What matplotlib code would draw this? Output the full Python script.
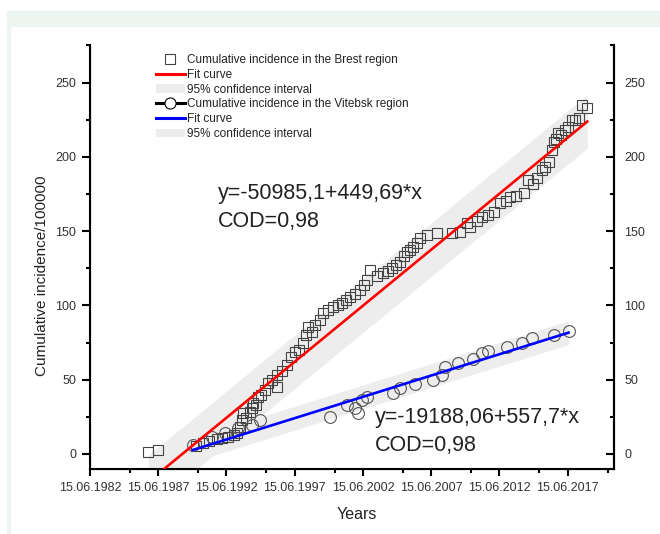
import matplotlib
matplotlib.use("Agg")
import matplotlib.pyplot as plt
from matplotlib.lines import Line2D
from matplotlib.patches import Patch, Rectangle

plt.rcParams["font.family"] = ["Liberation Sans", "DejaVu Sans"]

# Brest region, cumulative incidence per 100000
brest_years = [1986.72, 1987.46, 1990.2, 1990.73, 1991.2, 1991.74, 1992.1, 1992.57,
               1993.0, 1993.2, 1993.45, 1993.57, 1993.69, 1993.9, 1994.18, 1994.3,
               1994.42, 1994.6, 1994.79, 1995.0, 1995.28, 1995.52, 1995.8, 1996.14,
               1996.14, 1996.5, 1996.9, 1997.2, 1997.48, 1997.8, 1998.09, 1998.3,
               1998.45, 1998.7, 1998.95, 1999.3, 1999.55, 1999.9, 2000.29, 2000.6,
               2000.9, 2001.2, 2001.51, 2001.9, 2002.24, 2002.5, 2002.74, 2002.98,
               2003.5, 2003.95, 2004.3, 2004.57, 2004.9, 2005.18, 2005.45, 2005.67,
               2005.9, 2006.15, 2006.4, 2006.64, 2007.14, 2007.87, 2009.0, 2009.58,
               2010.07, 2010.31, 2010.8, 2011.17, 2011.6, 2012.02, 2012.51, 2012.9,
               2013.24, 2013.7, 2014.22, 2014.58, 2014.9, 2015.2, 2015.57, 2015.8,
               2016.05, 2016.3, 2016.42, 2016.6, 2016.78, 2017.0, 2017.27, 2017.5,
               2017.76, 2018.0, 2018.25, 2018.5, 2018.86]
brest_vals = [1.5, 2.7, 5.5, 7.4, 8.5, 10.1, 10.8, 11.6,
              12.5, 14.1, 18.0, 22.9, 27.4, 24.0, 28.5, 31.0,
              34.3, 33.0, 38.6, 40.0, 43.1, 47.6, 50.0, 53.2,
              45.3, 56.0, 60.0, 65.0, 68.9, 70.0, 74.5, 80.0,
              85.7, 82.0, 86.9, 90.0, 94.7, 97.0, 99.2, 100.0,
              101.5, 104.0, 105.9, 108.0, 110.4, 114.0, 117.2, 123.9,
              120.0, 121.7, 123.0, 125.1, 127.0, 129.5, 133.0, 136.2,
              137.0, 139.6, 142.0, 145.3, 147.5, 148.6, 149.0, 149.7,
              155.4, 153.1, 157.0, 159.8, 161.0, 163.2, 168.8, 170.0,
              173.3, 174.0, 175.6, 184.5, 182.0, 185.7, 191.2, 193.0,
              196.8, 204.7, 210.3, 212.0, 216.0, 215.0, 218.2, 220.0,
              224.9, 225.0, 226.1, 235.0, 232.8]

# Vitebsk region
vitebsk_years = [1990.02, 1991.37, 1992.35, 1993.32, 1994.3, 1994.91, 2000.04,
                 2001.27, 2001.88, 2002.12, 2002.37, 2002.74, 2004.69, 2005.18,
                 2006.28, 2007.62, 2008.23, 2008.48, 2009.45, 2010.55, 2011.17,
                 2011.65, 2013.0, 2014.1, 2014.83, 2016.42, 2017.52]
vitebsk_vals = [6.1, 11.6, 13.9, 17.3, 19.5, 22.9, 25.1,
                33.0, 30.8, 27.4, 36.4, 38.2, 40.9, 44.2,
                47.1, 49.8, 53.2, 58.8, 61.1, 63.8, 67.8,
                69.6, 72.3, 75.0, 77.9, 80.1, 83.0]

# linear fits and 95% bands (ends of each line)
brest_fit_years = [1986.72, 2018.89]
brest_fit_vals = [-18.8, 223.8]
brest_band_lo = [-36.8, 205.8]
brest_band_hi = [-0.8, 241.8]

vitebsk_fit_years = [1989.98, 2017.52]
vitebsk_fit_vals = [2.7, 81.7]
vitebsk_band_lo = [-5.3, 73.7]
vitebsk_band_hi = [10.7, 89.7]

major_years = [1982.45, 1987.45, 1992.45, 1997.45, 2002.45, 2007.45, 2012.45, 2017.45]
major_labels = ["15.06.1982", "15.06.1987", "15.06.1992", "15.06.1997",
                "15.06.2002", "15.06.2007", "15.06.2012", "15.06.2017"]
minor_years = [1985.38, 1990.38, 1995.38, 2000.38, 2005.38, 2010.38, 2015.38, 2020.38]
y_major = [0, 50, 100, 150, 200, 250]
y_minor = [25, 75, 125, 175, 225, 275]

W, H = 660, 534
fig = plt.figure(figsize=(6.6, 5.34), dpi=100)

# light frame of the page
fig.patches.append(Rectangle((7 / W, 1 - 26 / H), 653 / W, 15 / H,
                             transform=fig.transFigure, color="#edf5f0", zorder=0))
fig.patches.append(Rectangle((7 / W, 0), 3 / W, 1 - 26 / H,
                             transform=fig.transFigure, color="#edf5f0", zorder=0))

ax = fig.add_axes([90 / W, 1 - 469.3 / H, (614.3 - 90) / W, (469.3 - 45.5) / H])
ax.patch.set_alpha(0)

band_col = "#ededed"
ax.fill_between(brest_fit_years, brest_band_lo, brest_band_hi, color=band_col, lw=0, zorder=1)
ax.fill_between(vitebsk_fit_years, vitebsk_band_lo, vitebsk_band_hi, color=band_col, lw=0, zorder=1)
ax.plot(brest_years, brest_vals, ls="none", marker="s", ms=7.6, mfc="none",
        mec="#444444", mew=0.8, zorder=3)
ax.plot(vitebsk_years, vitebsk_vals, ls="none", marker="o", ms=8.5, mfc="none",
        mec="#555555", mew=0.8, zorder=3)
ax.plot(brest_fit_years, brest_fit_vals, color="#ff0000", lw=1.9, zorder=4)
ax.plot(vitebsk_fit_years, vitebsk_fit_vals, color="#0000ff", lw=1.9, zorder=4)

ax.set_xlim(1982.45, 2020.87)
ax.set_ylim(-10.3, 275)
ax.spines["top"].set_visible(False)
for s in ["left", "bottom", "right"]:
    ax.spines[s].set_linewidth(1.5)
ax.set_xticks(major_years)
ax.set_xticklabels(major_labels)
ax.set_xticks(minor_years, minor=True)
ax.set_yticks(y_major)
ax.set_yticks(y_minor, minor=True)
ax.tick_params(which="major", direction="out", length=6, width=1.5,
               labelsize=9, labelcolor="#333333", pad=4)
ax.tick_params(which="minor", direction="out", length=3, width=1.5)
ax.tick_params(axis="x", which="major", length=4.8, pad=4.5)

ax2 = ax.twinx()
ax2.set_ylim(ax.get_ylim())
ax2.spines["top"].set_visible(False)
ax2.spines["right"].set_linewidth(1.5)
ax2.set_yticks(y_major)
ax2.set_yticks(y_minor, minor=True)
ax2.tick_params(which="major", direction="in", length=6, width=1.5,
                labelsize=9, labelcolor="#333333", pad=7)
ax2.tick_params(which="minor", direction="in", length=3, width=1.5)

ax.set_xlabel("Years", fontsize=11.5, color="#222222")
ax.xaxis.set_label_coords(0.508, -0.088)
ax.set_ylabel("Cumulative incidence/100000", fontsize=11, color="#222222")
ax.yaxis.set_label_coords(-0.078, 0.456)

fig.text(218 / W, 1 - 194 / H, "y=-50985,1+449,69*x", fontsize=15.5, color="#222222", va="center")
fig.text(218 / W, 1 - 222 / H, "COD=0,98", fontsize=15.5, color="#222222", va="center")
fig.text(375 / W, 1 - 418 / H, "y=-19188,06+557,7*x", fontsize=15.5, color="#222222", va="center")
fig.text(375 / W, 1 - 445 / H, "COD=0,98", fontsize=15.5, color="#222222", va="center")

handles = [
    Line2D([], [], ls="none", marker="s", ms=7.2, mfc="none", mec="#444444", mew=0.8),
    Line2D([], [], color="#ff0000", lw=2.2),
    Patch(facecolor=band_col, edgecolor="none"),
    Line2D([], [], color="black", lw=2.2, marker="o", ms=8, mfc="white", mec="black", mew=0.8),
    Line2D([], [], color="#0000ff", lw=2.2),
    Patch(facecolor=band_col, edgecolor="none"),
]
labels = ["Cumulative incidence in the Brest region", "Fit curve", "95% confidence interval",
          "Cumulative incidence in the Vitebsk region", "Fit curve", "95% confidence interval"]
fig.legend(handles, labels, loc="upper left", bbox_to_anchor=(156 / W, 1 - 54 / H),
           frameon=False, fontsize=8.5, borderpad=0, borderaxespad=0, handlelength=2.45,
           handletextpad=0.2, labelspacing=0.24, labelcolor="#222222")

fig.savefig("out.png", dpi=100)
